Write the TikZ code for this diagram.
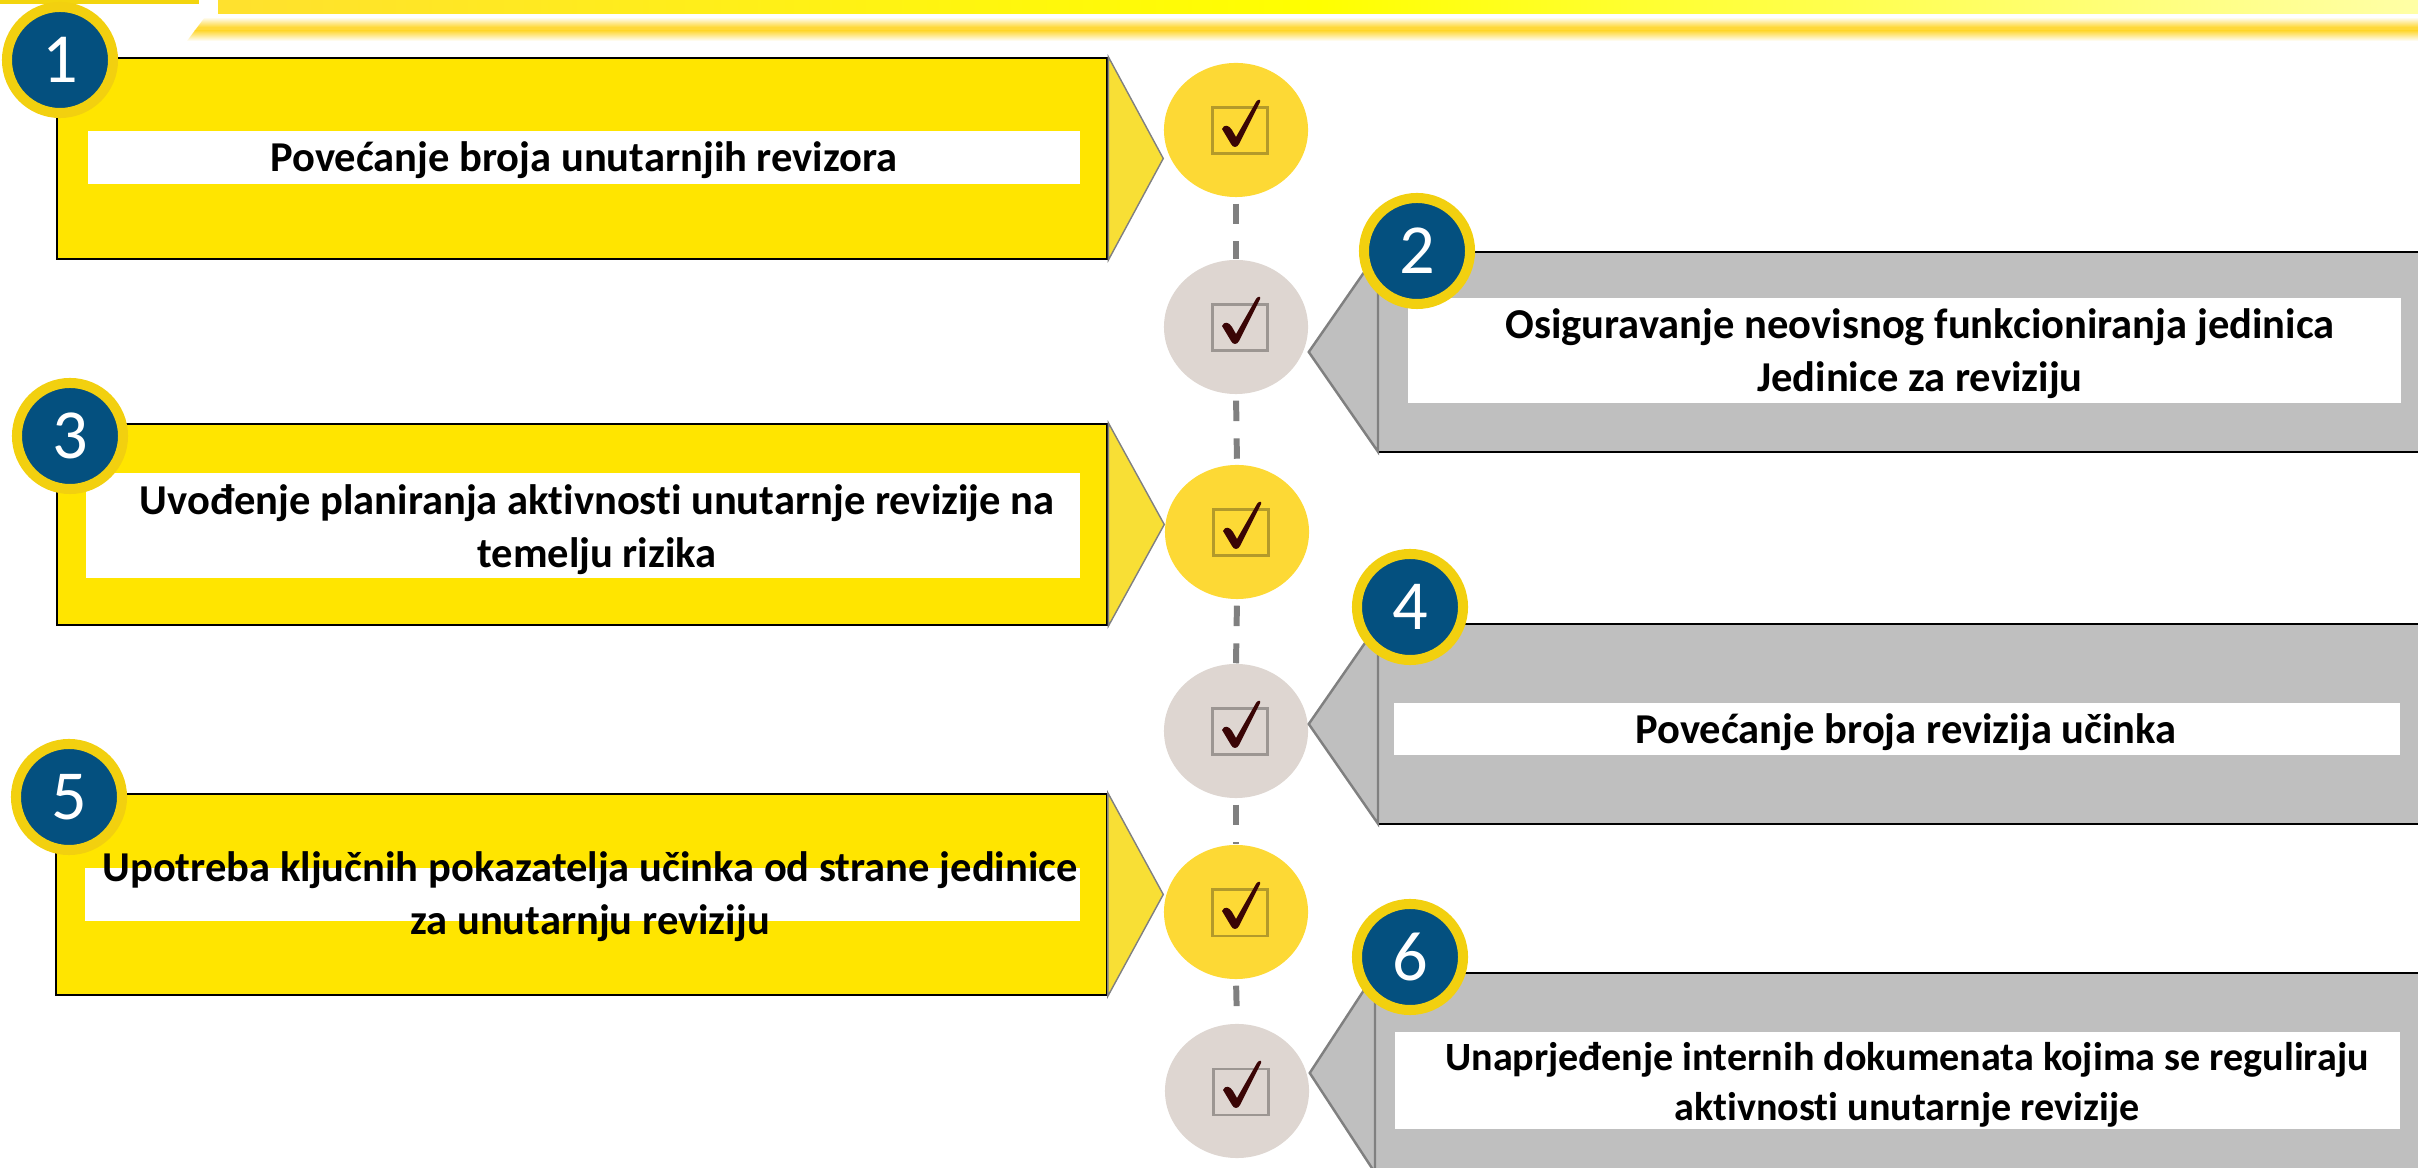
\documentclass[tikz,border=0pt]{standalone}
\usepackage{fontspec}
\setmainfont{Carlito}[Ligatures=NoCommon]
\usetikzlibrary{shapes.geometric,calc}
\definecolor{boxyellow}{HTML}{FFE500}
\definecolor{triyellow}{HTML}{F8DF35}
\definecolor{circyellow}{HTML}{FDD935}
\definecolor{circgrey}{HTML}{DED6D1}
\definecolor{boxgrey}{HTML}{BFBFBF}
\definecolor{edgegrey}{HTML}{808080}
\definecolor{badgeblue}{HTML}{04507F}
\definecolor{badgegold}{HTML}{F2D00F}
\definecolor{checkred}{HTML}{3A0505}
\definecolor{bargold}{HTML}{FFD93A}
\definecolor{iconY}{HTML}{B39A2A}
\definecolor{iconG}{HTML}{9C9692}
\tikzset{
  ybox/.style={rectangle, draw=black, line width=0.6pt, fill=boxyellow, minimum width=10.5cm, minimum height=2.01cm, inner sep=0},
  gbox/.style={rectangle, fill=boxgrey, minimum width=10.6cm, minimum height=1.98cm, inner sep=0},
  wbox/.style={rectangle, fill=white, inner sep=0},
  ytri/.style={fill=triyellow, draw=edgegrey, line width=0.4pt},
  gtri/.style={fill=boxgrey, draw=edgegrey, line width=0.7pt},
  ycirc/.style={ellipse, fill=circyellow, minimum width=1.44cm, minimum height=1.34cm, inner sep=0},
  gcirc/.style={ellipse, fill=circgrey, minimum width=1.44cm, minimum height=1.34cm, inner sep=0},
  badge/.style={circle, fill=badgeblue, draw=badgegold, line width=2.85pt, minimum size=1.06cm, inner sep=0, text=white, font=\fontsize{20}{24}\selectfont},
  lbl/.style={font=\bfseries\fontsize{12.1}{15}\selectfont, align=center, inner sep=0},
  lblsmall/.style={font=\bfseries\fontsize{11.4}{14.4}\selectfont, align=center, inner sep=0},
  dashline/.style={draw=edgegrey, line width=1.7pt, dash pattern=on 5.8pt off 4.9pt},
  checkicon/.pic={
    \draw[#1, line width=0.85pt] (-24,-22) rectangle (31,24);
    \fill[checkred] (-14,-1) .. controls (-12,-6) and (-7,-5) .. (-4,0)
      -- (0,7) -- (20,-28) .. controls (22,-31) and (25,-31) .. (24,-28)
      -- (3,14) .. controls (1,18) and (-3,18) .. (-5,14) -- cycle;
  }
}
\begin{document}
\begin{tikzpicture}[x=0.01cm,y=-0.01cm]
\useasboundingbox (0,0) rectangle (2418,1168);
% top decoration
\fill[badgegold!90!yellow] (0,0) rectangle (199,4);
\shade[left color=bargold!80!yellow, right color=yellow!35, middle color=yellow] (218,0) rectangle (2418,14);
\begin{scope}
  \clip (205,17) -- (2418,17) -- (2418,41) -- (187,41) -- cycle;
  \shade[top color=white, bottom color=bargold] (180,17) rectangle (2418,27);
  \fill[bargold] (180,27) rectangle (2418,31);
  \shade[top color=bargold, bottom color=white] (180,31) rectangle (2418,41);
\end{scope}

% circles
\node[ycirc] (c1) at (1236,130) {};
\node[gcirc] (c2) at (1236,327) {};
\node[ycirc] (c3) at (1237,532) {};
\node[gcirc] (c4) at (1236,731) {};
\node[ycirc] (c5) at (1236,912) {};
\node[gcirc] (c6) at (1237,1091) {};
\foreach \c/\k in {c1/iconY,c2/iconG,c3/iconY,c4/iconG,c5/iconY,c6/iconG}
  \pic at (\c) {checkicon=\k};
\foreach \a/\b in {c1/c2,c2/c3,c3/c4,c4/c5,c5/c6}
  \draw[dashline, shorten <=1.7pt] (\a.south) -- (\b.north);

% left boxes
\node[ybox] (b1) at (582,158.5) {};
\node[ybox] (b3) at (582,524.5) {};
\node[ybox] (b5) at (581.5,894.5) {};
\foreach \b/\c in {b1/c1,b3/c3,b5/c5}
  \filldraw[ytri] (\b.north east) -- (\c.west |- \b.east) -- (\b.south east) -- cycle;
\node[wbox, minimum width=9.92cm, minimum height=0.53cm] (w1) at (584,157.5) {};
\node[wbox, minimum width=9.94cm, minimum height=1.05cm] (w3) at (583,525.5) {};
\node[wbox, minimum width=9.95cm, minimum height=0.53cm] (w5) at (582.5,894.5) {};

% right boxes
\node[gbox] (b2) at (1909,352) {};
\node[gbox] (b4) at (1909,724) {};
\node[gbox] (b6) at (1906,1073) {};
\foreach \b/\c in {b2/c2,b4/c4,b6/c6}{
  \draw[black, line width=0.6pt] (\b.north west) -- (\b.north east);
  \draw[black, line width=0.6pt] (\b.south west) -- (\b.south east);
  \filldraw[gtri] (\b.north west) -- (\c.east |- \b.west) -- (\b.south west) -- cycle;
}
\node[wbox, minimum width=9.93cm, minimum height=1.05cm] (w2) at (1904.5,350.5) {};
\node[wbox, minimum width=10.06cm, minimum height=0.52cm] (w4) at (1897,729) {};
\node[wbox, minimum width=10.05cm, minimum height=0.97cm] (w6) at (1897.5,1080.5) {};

% texts
\node[lbl] (t1) at (584,160) {Povećanje broja unutarnjih revizora};
\node[lbl] (t3) at (597,530) {Uvođenje planiranja aktivnosti unutarnje revizije na\\temelju rizika};
\node[lbl] (t5) at (590,897) {Upotreba ključnih pokazatelja učinka od strane jedinice\\za unutarnju reviziju};
\node[lbl] (t2) at (1920,354) {Osiguravanje neovisnog funkcioniranja jedinica\\Jedinice za reviziju};
\node[lbl] (t4) at (1906,732) {Povećanje broja revizija učinka};
\node[lblsmall] (t6) at (1907,1085) {Unaprjeđenje internih dokumenata kojima se reguliraju\\aktivnosti unutarnje revizije};

% badges
\node[badge] (n1) at (60,60) {1};
\node[badge] (n3) at (70,436) {3};
\node[badge] (n5) at (69,797) {5};
\node[badge] (n2) at (1417,251) {2};
\node[badge] (n4) at (1410,607) {4};
\node[badge] (n6) at (1410,957) {6};
\end{tikzpicture}
\end{document}
